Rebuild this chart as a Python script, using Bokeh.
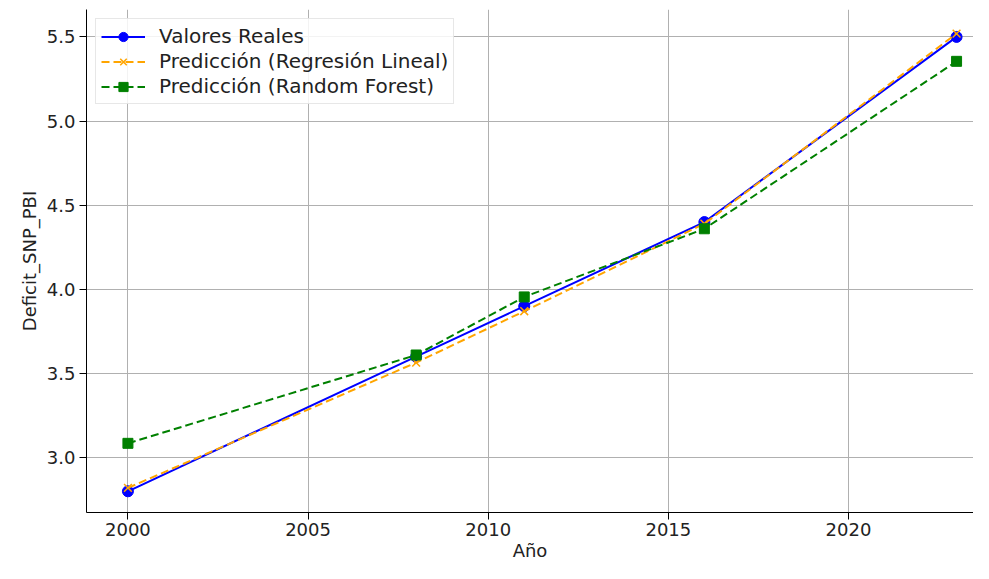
from bokeh.plotting import figure
from bokeh.models import Range1d, FixedTicker, Legend, LegendItem, PrintfTickFormatter
from bokeh.embed import file_html
from bokeh.resources import INLINE

years = [2000, 2008, 2011, 2016, 2023]
reales = [2.80, 3.60, 3.90, 4.40, 5.50]
pred_lineal = [2.82, 3.565, 3.87, 4.39, 5.52]
pred_rf = [3.085, 3.61, 3.955, 4.36, 5.355]
x_ticks = [2000, 2005, 2010, 2015, 2020]
y_ticks = [3.0, 3.5, 4.0, 4.5, 5.0, 5.5]

FONT = "DejaVu Sans"

p = figure(width=973, height=563, output_backend="svg", toolbar_location=None,
           x_range=Range1d(1998.85, 2023.47), y_range=Range1d(2.674, 5.663),
           min_border_left=86, min_border_top=9, min_border_bottom=47, min_border_right=0)
p.outline_line_color = None
p.background_fill_color = "white"

for ax in (p.xaxis[0], p.yaxis[0]):
    ax.axis_line_color = "black"
    ax.axis_line_width = 1
    ax.major_tick_line_color = "black"
    ax.major_tick_out = 7
    ax.major_tick_in = 0
    ax.minor_tick_line_color = None
    ax.major_label_text_font = FONT
    ax.major_label_text_font_size = "18px"
    ax.major_label_text_color = "#222222"
    ax.axis_label_text_font = FONT
    ax.axis_label_text_font_size = "18px"
    ax.axis_label_text_font_style = "normal"
    ax.axis_label_text_color = "#222222"

p.xaxis[0].ticker = FixedTicker(ticks=x_ticks)
p.yaxis[0].ticker = FixedTicker(ticks=y_ticks)
p.yaxis[0].formatter = PrintfTickFormatter(format="%.1f")
p.xaxis[0].axis_label = "Año"
p.yaxis[0].axis_label = "Deficit_SNP_PBI"
p.xaxis[0].major_label_standoff = 3
p.xaxis[0].axis_label_standoff = 1
p.yaxis[0].major_label_standoff = 4
p.yaxis[0].axis_label_standoff = 4

p.grid.grid_line_color = "#b0b0b0"
p.grid.grid_line_width = 1
p.xgrid.ticker = FixedTicker(ticks=x_ticks)
p.ygrid.ticker = FixedTicker(ticks=y_ticks)

l1 = p.line(years, reales, line_color="blue", line_width=2)
m1 = p.scatter(years, reales, marker="circle", size=11, fill_color="blue", line_color="blue")
l2 = p.line(years, pred_lineal, line_color="orange", line_width=2, line_dash="8 4")
m2 = p.scatter(years, pred_lineal, marker="x", size=11, line_color="orange", line_width=1.5)
l3 = p.line(years, pred_rf, line_color="green", line_width=2, line_dash="8 4")
m3 = p.scatter(years, pred_rf, marker="square", size=10, fill_color="green", line_color="green")

legend = Legend(items=[
    LegendItem(label="Valores Reales", renderers=[l1, m1]),
    LegendItem(label="Predicción (Regresión Lineal)", renderers=[l2, m2]),
    LegendItem(label="Predicción (Random Forest)", renderers=[l3, m3]),
], location="top_left")
legend.margin = 9
legend.padding = 5
legend.spacing = 1
legend.glyph_width = 44
legend.glyph_height = 23
legend.label_text_font = FONT
legend.label_text_font_size = "20px"
legend.label_text_color = "#222222"
legend.label_standoff = 14
legend.border_line_color = "#d0d0d0"
legend.border_line_width = 1
legend.background_fill_alpha = 0.85
p.add_layout(legend, "center")

open("out.html", "w").write(file_html(p, INLINE))
